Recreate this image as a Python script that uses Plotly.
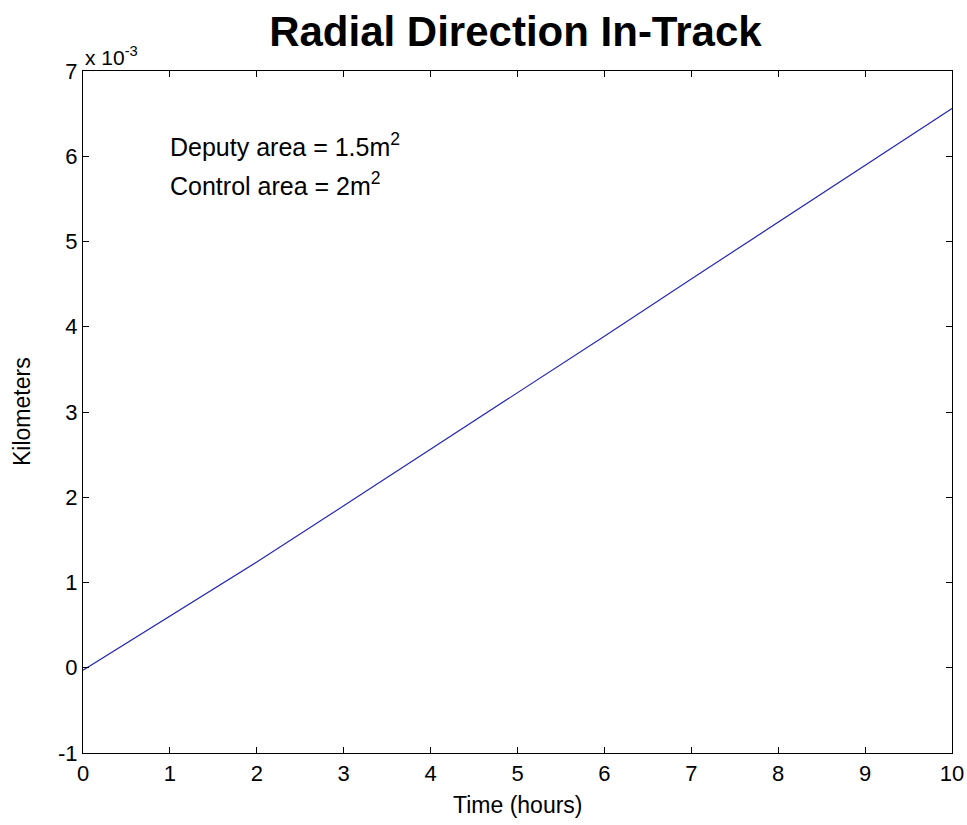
import plotly.graph_objects as go

# Data (Kilometers, in units of 1e-3)
time_hours = [0, 1, 2, 3, 4, 5, 6, 7, 8, 9, 10]
radial_km_e3 = [-0.03, 0.60, 1.24, 1.90, 2.56, 3.22, 3.89, 4.56, 5.23, 5.89, 6.56]

x_ticks = [0, 1, 2, 3, 4, 5, 6, 7, 8, 9, 10]
y_ticks = [-1, 0, 1, 2, 3, 4, 5, 6, 7]

FONT = "Liberation Sans, Arial, Helvetica, sans-serif"

fig = go.Figure()
fig.add_trace(go.Scatter(
    x=time_hours, y=radial_km_e3, mode="lines",
    line=dict(color="rgb(40,40,175)", width=1.2),
    showlegend=False, hoverinfo="skip",
))

axis_common = dict(
    showgrid=False, zeroline=False, showline=True, linecolor="black", linewidth=1.2,
    mirror="ticks", ticks="inside", ticklen=6, tickwidth=1.2, tickcolor="black",
    tickfont=dict(family=FONT, size=22, color="black"), automargin=False,
)

fig.update_layout(
    width=967, height=825,
    margin=dict(l=83, r=15, t=71, b=72, autoexpand=False),
    paper_bgcolor="white", plot_bgcolor="white",
    title=dict(text="<b>Radial Direction In-Track</b>", x=0.533, xanchor="center",
               y=0.962, yanchor="middle",
               font=dict(family=FONT, size=42, color="black")),
    xaxis=dict(range=[0, 10], tickvals=x_ticks, ticktext=[str(v) for v in x_ticks],
               **axis_common),
    yaxis=dict(range=[-1, 7], tickvals=y_ticks, ticktext=[str(v) for v in y_ticks],
               **axis_common),
    annotations=[
        dict(text="x 10<sup>-3</sup>", xref="paper", yref="paper", x=0.0, y=1.0,
             xanchor="left", yanchor="bottom", showarrow=False, yshift=0,
             font=dict(family=FONT, size=21, color="black")),
        dict(text="Deputy area = 1.5m<sup>2</sup>", xref="x", yref="y", x=0.98, y=6.13,
             xanchor="left", yanchor="middle", showarrow=False,
             font=dict(family=FONT, size=25, color="black")),
        dict(text="Control area = 2m<sup>2</sup>", xref="x", yref="y", x=0.98, y=5.67,
             xanchor="left", yanchor="middle", showarrow=False,
             font=dict(family=FONT, size=25, color="black")),
        dict(text="Time (hours)", xref="paper", yref="paper", x=0.5, y=0,
             xanchor="center", yanchor="middle", yshift=-52, showarrow=False,
             font=dict(family=FONT, size=23, color="black")),
        dict(text="Kilometers", xref="paper", yref="paper", x=0, y=0.5,
             xanchor="center", yanchor="middle", xshift=-61, textangle=-90, showarrow=False,
             font=dict(family=FONT, size=23, color="black")),
    ],
)
fig.write_html("out.html")
